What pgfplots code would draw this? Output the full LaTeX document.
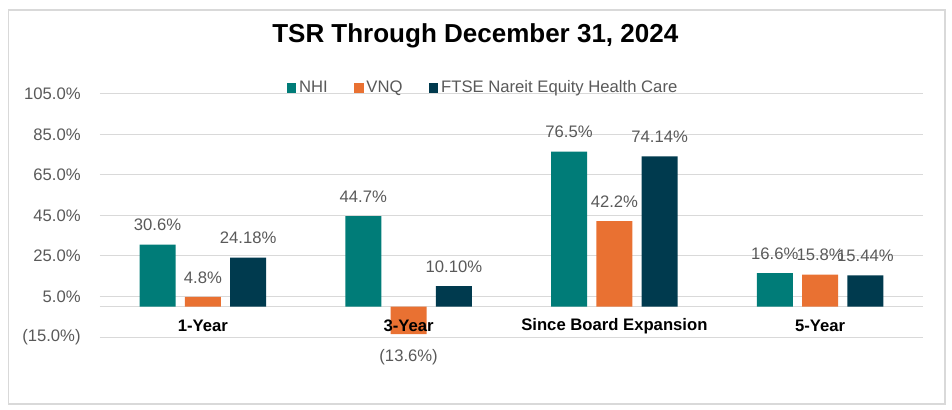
\documentclass[border=0pt]{standalone}
\usepackage{pgfplots}
\pgfplotsset{compat=1.18}
\usepackage{fontspec}
\setmainfont{Liberation Sans}

\definecolor{nhi}{HTML}{007C78}
\definecolor{vnq}{HTML}{E97132}
\definecolor{ftse}{HTML}{003A4E}
\definecolor{txtgray}{HTML}{595959}
\definecolor{gridgray}{HTML}{D9D9D9}

\tikzset{catlabel/.style={anchor=center, yshift=8.25pt, font=\fontsize{12.5}{15}\selectfont\bfseries, text=black}}

\begin{document}
\begin{tikzpicture}
\begin{axis}[
    at={(0,0)}, anchor=south west,
    scale only axis,
    width=617.25pt, height=182.25pt,
    xmin=-0.5, xmax=3.5,
    ymin=-15, ymax=105,
    ybar=7pt, bar width=27pt,
    axis line style={draw=none},
    major tick length=0pt,
    xtick={0,1,2,3},
    xticklabels={},
    ytick={-15,5,25,45,65,85,105},
    yticklabels={(15.0\%),5.0\%,25.0\%,45.0\%,65.0\%,85.0\%,105.0\%},
    yticklabel style={xshift=-11pt, font=\fontsize{12.5}{15}\selectfont, text=txtgray},
    ymajorgrids,
    grid style={draw=gridgray, line width=0.75pt},
    extra y ticks={0},
    extra y tick labels={},
    extra y tick style={grid style={draw=gridgray, line width=0.75pt}},
    nodes near coords,
    point meta=explicit symbolic,
    visualization depends on={rawy \as \yv},
    every node near coord/.append style={font=\fontsize{12.5}{15}\selectfont, text=txtgray,
        inner sep=4pt, yshift={\yv<0 ? -27 : 6}},
    title={TSR Through December 31, 2024},
    title style={at={(0.456,1.206)}, anchor=center, font=\fontsize{19.5}{23}\selectfont\bfseries, text=black},
    legend style={at={(0.466,1.025)}, anchor=center, draw=none, fill=none,
        legend columns=3, font=\fontsize{12.5}{15}\selectfont, text=txtgray,
        /tikz/every even column/.append style={column sep=18pt}},
]
\addplot[fill=nhi, draw=none,
    legend image code/.code={\fill[nhi] (0pt,-3.5pt) rectangle (7pt,3.5pt);}]
    coordinates {(0,30.6) [30.6\%] (1,44.7) [44.7\%] (2,76.5) [76.5\%] (3,16.6) [16.6\%]};
\addplot[fill=vnq, draw=none,
    legend image code/.code={\fill[vnq] (0pt,-3.5pt) rectangle (7pt,3.5pt);}]
    coordinates {(0,4.8) [4.8\%] (1,-13.6) [(13.6\%)] (2,42.2) [42.2\%] (3,15.8) [15.8\%]};
\addplot[fill=ftse, draw=none,
    legend image code/.code={\fill[ftse] (0pt,-3.5pt) rectangle (7pt,3.5pt);}]
    coordinates {(0,24.18) [24.18\%] (1,10.10) [10.10\%] (2,74.14) [74.14\%] (3,15.44) [15.44\%]};
\legend{NHI,VNQ,FTSE Nareit Equity Health Care}
% category names, drawn after the bars so that they sit on top
\node[catlabel] at (axis cs:0,-15) {1-Year};
\node[catlabel] at (axis cs:1,-15) {3-Year};
\node[catlabel] at (axis cs:2,-15) {Since Board Expansion};
\node[catlabel] at (axis cs:3,-15) {5-Year};
\end{axis}
\draw[gridgray, line width=1.1pt] (-68.6pt,-50.25pt) rectangle (633.75pt,245.25pt);
\pgfresetboundingbox
\path (-75pt,-54.75pt) rectangle (639pt,252.75pt);
\end{tikzpicture}
\end{document}
